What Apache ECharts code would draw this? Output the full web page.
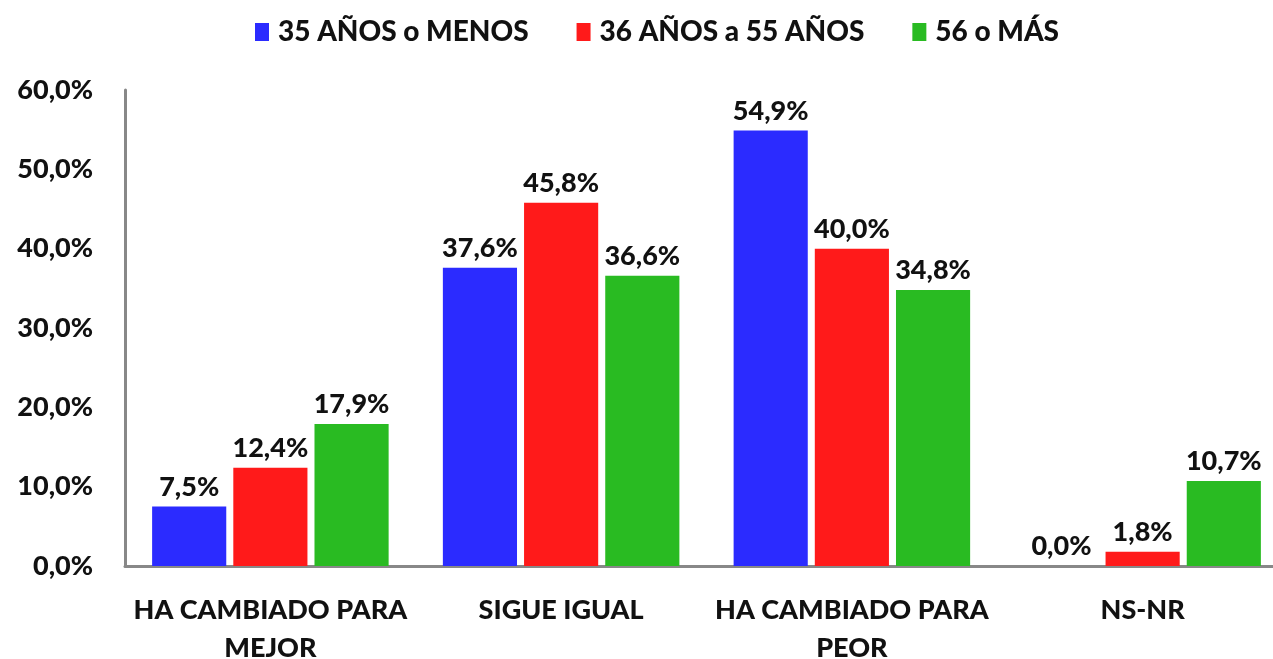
<!DOCTYPE html>
<html>
<head>
<meta charset="utf-8">
<script src="https://cdn.jsdelivr.net/npm/echarts@6/dist/echarts.min.js"></script>
<style>
  html, body { margin: 0; padding: 0; background: #fff; }
  #chart { width: 1273px; height: 659px; }
</style>
</head>
<body>
<div id="chart"></div>
<script>
const categories = ['HA CAMBIADO PARA\nMEJOR', 'SIGUE IGUAL', 'HA CAMBIADO PARA\nPEOR', 'NS-NR']
const seriesNames = ['35 AÑOS o MENOS', '36 AÑOS a 55 AÑOS', '56 o MÁS']
const young = [7.5, 37.6, 54.9, 0.0]
const middle = [12.4, 45.8, 40.0, 1.8]
const older = [17.9, 36.6, 34.8, 10.7]
const colors = ['#2b2bff', '#ff1a1a', '#29bb22']

const fontFamily = 'Lato, "Open Sans", sans-serif'
const fmt = v => v.toFixed(1).replace('.', ',') + '%'

const chart = echarts.init(document.getElementById('chart'))

const makeSeries = (name, data, color) => ({
  name: name,
  type: 'bar',
  barWidth: '25.5%',
  barGap: '9.5%',
  itemStyle: { color: color },
  label: {
    show: true,
    position: 'top',
    distance: 6,
    color: '#111',
    fontSize: 27,
    fontWeight: 900,
    fontFamily: fontFamily,
    formatter: p => fmt(p.value)
  },
  data: data
})

chart.setOption({
  animation: false,
  color: colors,
  textStyle: { fontFamily: fontFamily },
  legend: {
    data: seriesNames,
    top: 13,
    left: 250,
    itemWidth: 14,
    itemHeight: 18,
    itemGap: 48,
    icon: 'rect',
    textStyle: {
      fontSize: 28,
      fontWeight: 900,
      color: '#111',
      fontFamily: fontFamily,
      padding: [0, 0, 0, 4]
    }
  },
  grid: {
    left: 125,
    right: -15,
    top: 90,
    bottom: 93,
    outerBoundsMode: 'none'
  },
  xAxis: {
    type: 'category',
    data: categories,
    axisLine: { lineStyle: { color: '#888', width: 3 } },
    axisTick: { show: false },
    axisLabel: {
      interval: 0,
      color: '#111',
      fontSize: 27,
      fontWeight: 900,
      margin: 25,
      lineHeight: 38,
      fontFamily: fontFamily
    }
  },
  yAxis: {
    type: 'value',
    min: 0,
    max: 60,
    interval: 10,
    axisLine: { show: true, lineStyle: { color: '#888', width: 3 } },
    axisTick: { show: false },
    splitLine: { show: false },
    axisLabel: {
      color: '#111',
      fontSize: 27,
      fontWeight: 900,
      margin: 32,
      fontFamily: fontFamily,
      formatter: v => fmt(v)
    }
  },
  series: [
    makeSeries(seriesNames[0], young, colors[0]),
    makeSeries(seriesNames[1], middle, colors[1]),
    makeSeries(seriesNames[2], older, colors[2])
  ]
})

window.addEventListener('resize', () => chart.resize())
</script>
</body>
</html>
